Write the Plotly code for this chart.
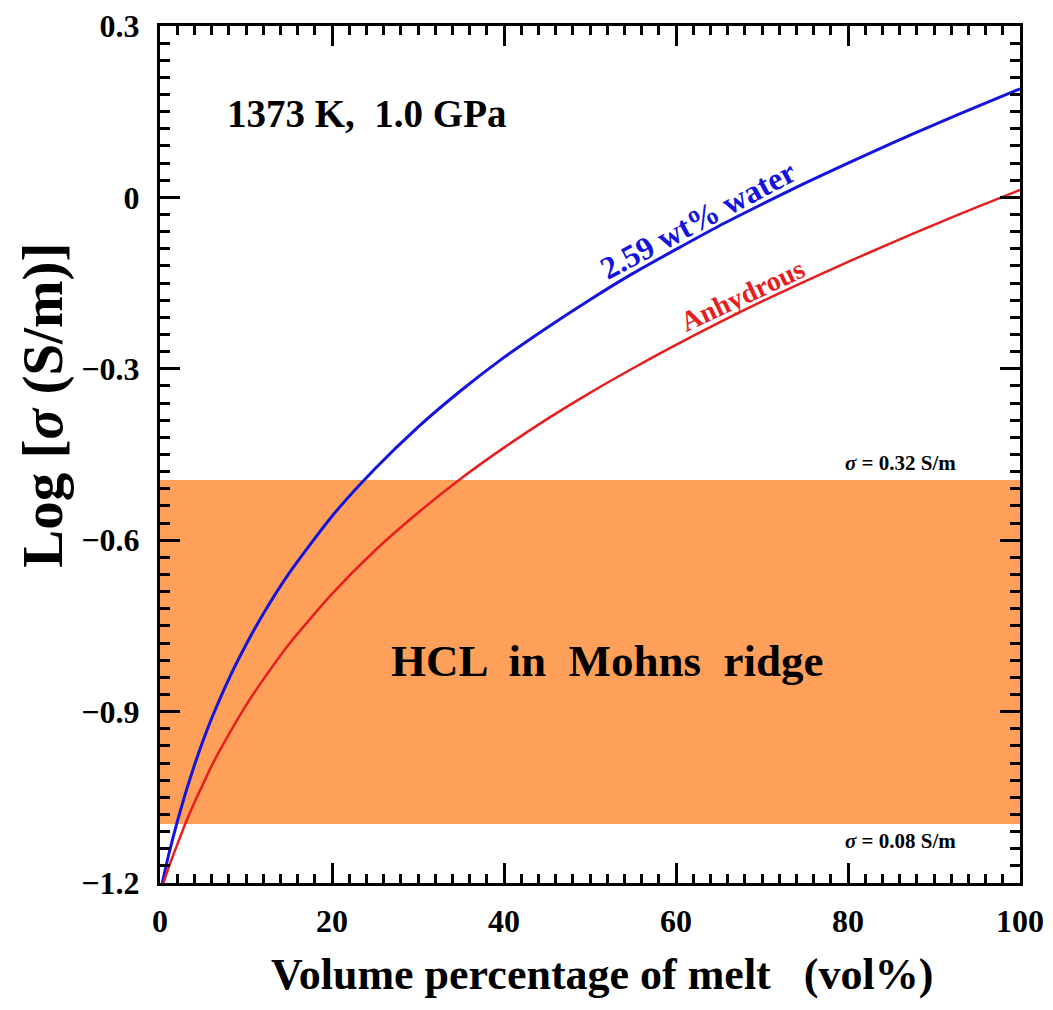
import math
import plotly.graph_objects as go

# ---- data ----
x_melt = [0, 0.5, 1, 2, 3, 4, 5, 6, 8, 10, 12, 15, 20, 25, 30, 35, 40, 45, 50, 55, 60, 65, 70, 75, 80, 85, 90, 95, 100]
y_water = [-1.219, -1.184, -1.151, -1.093, -1.041, -0.994, -0.951, -0.912, -0.843, -0.783, -0.729, -0.658, -0.558,
           -0.475, -0.402, -0.338, -0.280, -0.228, -0.179, -0.133, -0.091, -0.050, -0.012, 0.025, 0.060, 0.094,
           0.127, 0.159, 0.190]
y_anhyd = [-1.219, -1.196, -1.173, -1.133, -1.094, -1.059, -1.027, -0.995, -0.940, -0.889, -0.844, -0.782, -0.694,
           -0.618, -0.552, -0.492, -0.438, -0.388, -0.342, -0.299, -0.258, -0.219, -0.182, -0.147, -0.113, -0.080,
           -0.048, -0.017, 0.013]

band_sigma = [0.08, 0.32]          # S/m, HCL conductivity range
x_range = [0, 100]
y_range = [-1.2, 0.3]
x_ticks = [0, 20, 40, 60, 80, 100]
x_ticklabels = ["0", "20", "40", "60", "80", "100"]
y_ticks = [-1.2, -0.9, -0.6, -0.3, 0, 0.3]
y_ticklabels = ["\u22121.2", "\u22120.9", "\u22120.6", "\u22120.3", "0", "0.3"]

FONT = "Liberation Serif, Times New Roman, serif"
ORANGE = "#FFA05A"
BLUE = "#1414DC"
RED = "#E61E1E"

band_lo = math.log10(band_sigma[0])
band_hi = math.log10(band_sigma[1])

fig = go.Figure()

# band
fig.add_trace(go.Scatter(
    x=[x_range[0], x_range[1], x_range[1], x_range[0], x_range[0]],
    y=[band_lo, band_lo, band_hi, band_hi, band_lo],
    fill="toself", fillcolor=ORANGE, mode="none", hoverinfo="skip", showlegend=False))

fig.add_trace(go.Scatter(x=x_melt, y=y_water, mode="lines",
                         line=dict(color=BLUE, width=3, shape="spline", smoothing=0.6),
                         showlegend=False))
fig.add_trace(go.Scatter(x=x_melt, y=y_anhyd, mode="lines",
                         line=dict(color=RED, width=2.5, shape="spline", smoothing=0.6),
                         showlegend=False))

axis_common = dict(
    showline=True, linecolor="black", linewidth=3, mirror="allticks",
    ticks="inside", ticklen=20, tickwidth=3, tickcolor="black",
    showgrid=False, zeroline=False, ticklabeloverflow="allow", automargin=False,
    tickfont=dict(family=FONT, size=32, color="black"),
)

fig.update_xaxes(range=x_range, tickvals=x_ticks, ticktext=[f"<b>{t}</b>" for t in x_ticklabels],
                 ticklabelstandoff=8,
                 minor=dict(ticks="inside", ticklen=9, tickwidth=3, tickcolor="black", dtick=2, showgrid=False),
                 **axis_common)
fig.update_yaxes(range=y_range, tickvals=y_ticks, ticktext=[f"<b>{t}</b>" for t in y_ticklabels],
                 ticklabelstandoff=11,
                 minor=dict(ticks="inside", ticklen=10, tickwidth=3, tickcolor="black", dtick=0.03, showgrid=False),
                 **axis_common)

# axis titles (placed as in the reference)
fig.add_annotation(x=0.514, y=-0.107, xref="paper", yref="paper", xanchor="center", yanchor="middle",
                   showarrow=False, text="<b>Volume percentage of melt   (vol%)</b>",
                   font=dict(family=FONT, size=44, color="black"))
fig.add_annotation(x=-0.137, y=0.557, xref="paper", yref="paper", xanchor="center", yanchor="middle",
                   showarrow=False, textangle=-90, text="<b>Log [<i>σ</i> (S/m)]</b>",
                   font=dict(family=FONT, size=57, color="black"))

ann_font = dict(family=FONT, color="black")
fig.add_annotation(x=7.5, y=0.147, xref="x", yref="y", xanchor="left", yanchor="middle", showarrow=False,
                   text="<b>1373 K,  1.0 GPa</b>", font=dict(size=39, **ann_font))
fig.add_annotation(x=62.5, y=-0.04, xref="x", yref="y", showarrow=False, textangle=-28,
                   text="<b>2.59 wt% water</b>", font=dict(family=FONT, size=32, color=BLUE))
fig.add_annotation(x=67.7, y=-0.172, xref="x", yref="y", showarrow=False, textangle=-25,
                   text="<b>Anhydrous</b>", font=dict(family=FONT, size=28, color=RED))
fig.add_annotation(x=92.8, y=band_hi, xref="x", yref="y", xanchor="right", yanchor="bottom", yshift=3,
                   showarrow=False, text="<b><i>σ</i> = 0.32 S/m</b>", font=dict(size=21, **ann_font))
fig.add_annotation(x=92.8, y=band_lo, xref="x", yref="y", xanchor="right", yanchor="top", yshift=-3,
                   showarrow=False, text="<b><i>σ</i> = 0.08 S/m</b>", font=dict(size=21, **ann_font))
fig.add_annotation(x=52.0, y=-0.811, xref="x", yref="y", showarrow=False,
                   text="<b>HCL  in  Mohns  ridge</b>", font=dict(size=45, **ann_font))

fig.update_layout(
    width=1045, height=1002,
    margin=dict(l=152, r=33, t=18, b=127),
    paper_bgcolor="white", plot_bgcolor="white",
    font=dict(family=FONT),
)

fig.write_html("out.html")
